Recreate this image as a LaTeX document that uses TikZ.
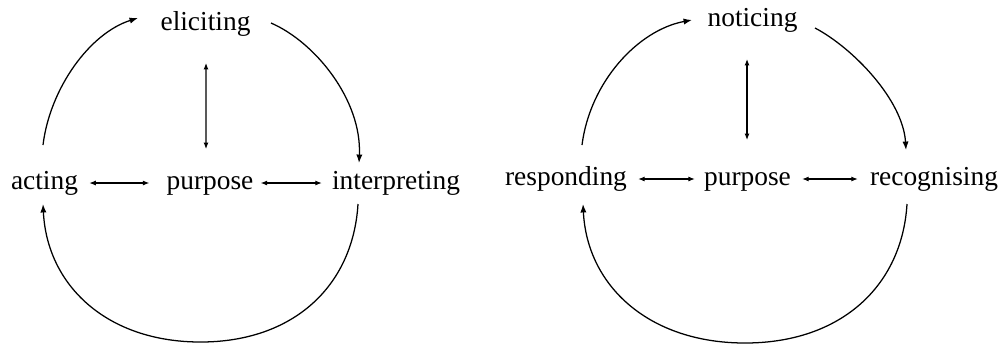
\documentclass[tikz,border=0pt]{standalone}
\usepackage{fontspec}
\setmainfont{Liberation Serif}
\usetikzlibrary{arrows.meta,calc}
\begin{document}
\begin{tikzpicture}[x=0.025cm,y=-0.025cm,
  word/.style={inner sep=0pt,anchor=base,font=\fontsize{19.5}{23}\selectfont},
  cycle/.style={line width=0.9pt,-{Latex[length=6pt,width=4.4pt]}},
  link/.style={line width=0.8pt,{Latex[length=4.6pt,width=3.6pt]}-{Latex[length=4.6pt,width=3.6pt]}}]
\useasboundingbox (0,0) rectangle (1003,345);

% ---- first cycle ----
\node[word] (elic) at (205.5,30) {eliciting};
\node[word] (act)  at (44.5,189) {acting};
\node[word] (purL) at (210,189) {purpose};
\node[word] (intp) at (396,189) {interpreting};
\coordinate (lowL) at (200.5,342);

\draw[link] ($(act.east |- act.base)+(11,-6)$) -- ($(purL.west |- purL.base)+(-17,-6)$);
\draw[link] ($(purL.east |- purL.base)+(7,-6)$) -- ($(intp.west |- intp.base)+(-10,-6)$);
\draw[link] ($(elic.base)+(0.5,33)$) -- ($(purL.base)+(-4,-40)$);

\draw[cycle] ($(act.base)+(-1.5,-44)$) .. controls +(7,-57) and +(-48,15) .. ($(elic.base)+(-67.5,-12)$);
\draw[cycle] ($(elic.base)+(65.5,-7)$) .. controls +(44,19) and +(3,-63) .. ($(intp.base)+(-37,-26)$);
\draw[cycle] ($(intp.base)+(-38,15)$) .. controls +(-5,82) and +(93,0) .. (lowL)
  .. controls +(-93,0) and +(4,82) .. ($(act.base)+(-1.5,15)$);

% ---- second cycle ----
\node[word] (noti) at (752.5,26) {noticing};
\node[word] (resp) at (566,185) {responding};
\node[word] (purR) at (747.5,185) {purpose};
\node[word] (reco) at (934,185) {recognising};
\coordinate (lowR) at (745,343);

\draw[link] ($(resp.east |- resp.base)+(11,-6)$) -- ($(purR.west |- purR.base)+(-9,-6)$);
\draw[link] ($(purR.east |- purR.base)+(11,-6)$) -- ($(reco.west |- reco.base)+(-12,-6)$);
\draw[link] ($(noti.base)+(-5.5,33)$) -- ($(purR.base)+(-0.5,-45)$);

\draw[cycle] ($(resp.base)+(16,-40)$) .. controls +(8,-63) and +(-54,10) .. ($(noti.base)+(-60.5,-6)$);
\draw[cycle] ($(noti.base)+(62.5,2)$) .. controls +(38,20) and +(-3,-50) .. ($(reco.base)+(-28,-35)$);
\draw[cycle] ($(reco.base)+(-27,19)$) .. controls +(-5,82) and +(96,0) .. (lowR)
  .. controls +(-96,0) and +(4,82) .. ($(resp.base)+(17,19)$);
\end{tikzpicture}
\end{document}
